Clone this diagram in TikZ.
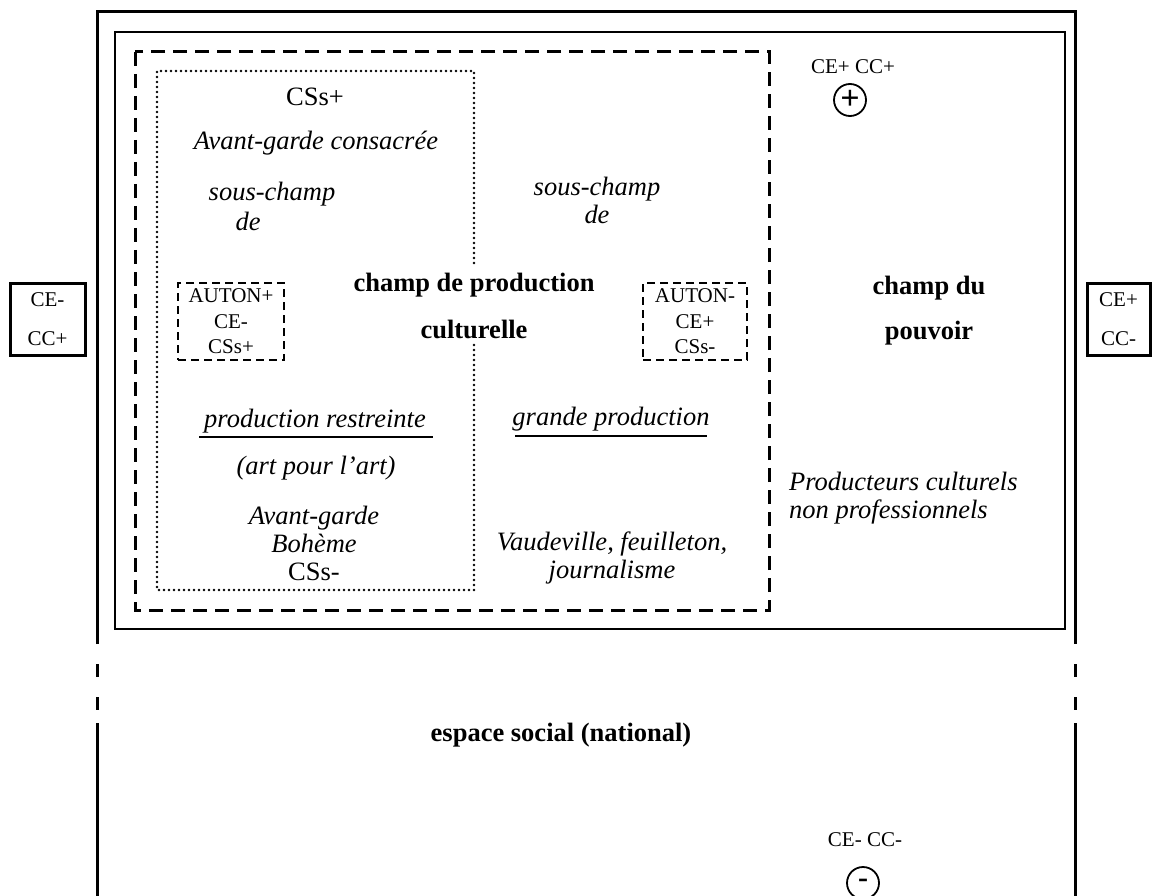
\documentclass[tikz,border=0pt]{standalone}
\usepackage{fontspec}
\setmainfont{Liberation Serif}
\tikzset{txt/.style={font=\fontsize{26.5}{28}\selectfont,inner sep=0pt,align=center},
         small/.style={font=\fontsize{21}{25.5}\selectfont,inner sep=0pt,align=center},
         frame/.style={line width=3pt},
         thinframe/.style={line width=1.8pt},
         bigdash/.style={line width=3pt,dash pattern=on 14pt off 8pt},
         smalldash/.style={draw,line width=2pt,dash pattern=on 8pt off 5pt},
         dotline/.style={line width=2.8pt,line cap=round,dash pattern=on 0pt off 5pt},
         sidebox/.style={draw,line width=3pt,minimum height=72pt,inner sep=0pt,align=center,
                         font=\fontsize{21}{39}\selectfont},
         sign/.style={draw,circle,line width=1.8pt,minimum size=32pt,inner sep=0pt}}

\begin{document}
\begin{tikzpicture}[x=1pt,y=-1pt]
\useasboundingbox (0,0) rectangle (1154,896);
% espace social
\draw[frame] (97,644) -- (97,12) -- (1075,12) -- (1075,644);
\draw[frame] (97,664) -- (97,677) (97,697) -- (97,710) (97,723) -- (97,900);
\draw[frame] (1075,664) -- (1075,677) (1075,697) -- (1075,710) (1075,723) -- (1075,900);
% champ du pouvoir
\draw[thinframe] (115,32) rectangle (1065,629);
% champ de production culturelle
\draw[bigdash] (135,52) rectangle (769,610);
% sous-champ de production restreinte
\draw[dotline] (474,263) -- (474,71) -- (157,71) -- (157,590) -- (474,590) -- (474,343);

\node[sidebox,minimum width=75pt] (left) at (47.5,319) {CE-\\CC+};
\node[sidebox,minimum width=63pt] (right) at (1118.5,319) {CE+\\CC-};

\node[small] (top) at (853,67) {CE+ CC+};
\node[sign,font=\bfseries\fontsize{34}{34}\selectfont] (plus) at (850,100) {+};
\node[small] (bottom) at (865,840) {CE- CC-};
\node[sign,font=\bfseries\fontsize{30}{30}\selectfont] (minus) at (863,883) {-};

\node[txt] (cssplus) at (315,97) {CSs+};
\node[txt,font=\itshape\fontsize{26.5}{28}\selectfont] (consacree) at (316,143) {Avant-garde consacrée};
\node[txt,align=left,font=\itshape\fontsize{26.5}{30}\selectfont] (sc1) at (272,206) {sous-champ\\\hspace*{27pt}de};
\node[txt,font=\itshape\fontsize{26.5}{28}\selectfont] (sc2) at (597,200) {sous-champ\\de};

\node[txt,font=\bfseries\fontsize{26.5}{47}\selectfont] (cpc) at (474,306) {champ de production\\culturelle};
\node[txt,font=\bfseries\fontsize{26.5}{45}\selectfont] (pouvoir) at (929,311) {champ du\\pouvoir};

\node[smalldash,small,minimum width=106pt,minimum height=77pt] (autplus) at (231,321.5) {AUTON+\\CE-\\CSs+};
\node[smalldash,small,minimum width=104pt,minimum height=77pt] (autmin) at (695,321.5) {AUTON-\\CE+\\CSs-};

\node[txt,font=\itshape\fontsize{26.5}{28}\selectfont] (restr) at (315,421) {production restreinte};
\draw[line width=1.5pt] (199,437) -- (433,437);
\node[txt,font=\itshape\fontsize{26.5}{28}\selectfont] (apla) at (316,468) {(art pour l’art)};
\node[txt] (boheme) at (314,543) {\textit{Avant-garde}\\\textit{Bohème}\\CSs-};

\node[txt,font=\itshape\fontsize{26.5}{28}\selectfont] (grande) at (611,419) {grande production};
\draw[line width=1.5pt] (515,436) -- (707,436);
\node[txt,font=\itshape\fontsize{26.5}{28}\selectfont] (vaud) at (612,558) {Vaudeville, feuilleton,\\journalisme};

\node[txt,align=left,anchor=west,font=\itshape\fontsize{26.5}{28}\selectfont] (amateurs) at (789,498) {Producteurs culturels\\non professionnels};

\node[txt,font=\bfseries\fontsize{26.5}{28}\selectfont] (espace) at (561,735) {espace social (national)};
\end{tikzpicture}
\end{document}
